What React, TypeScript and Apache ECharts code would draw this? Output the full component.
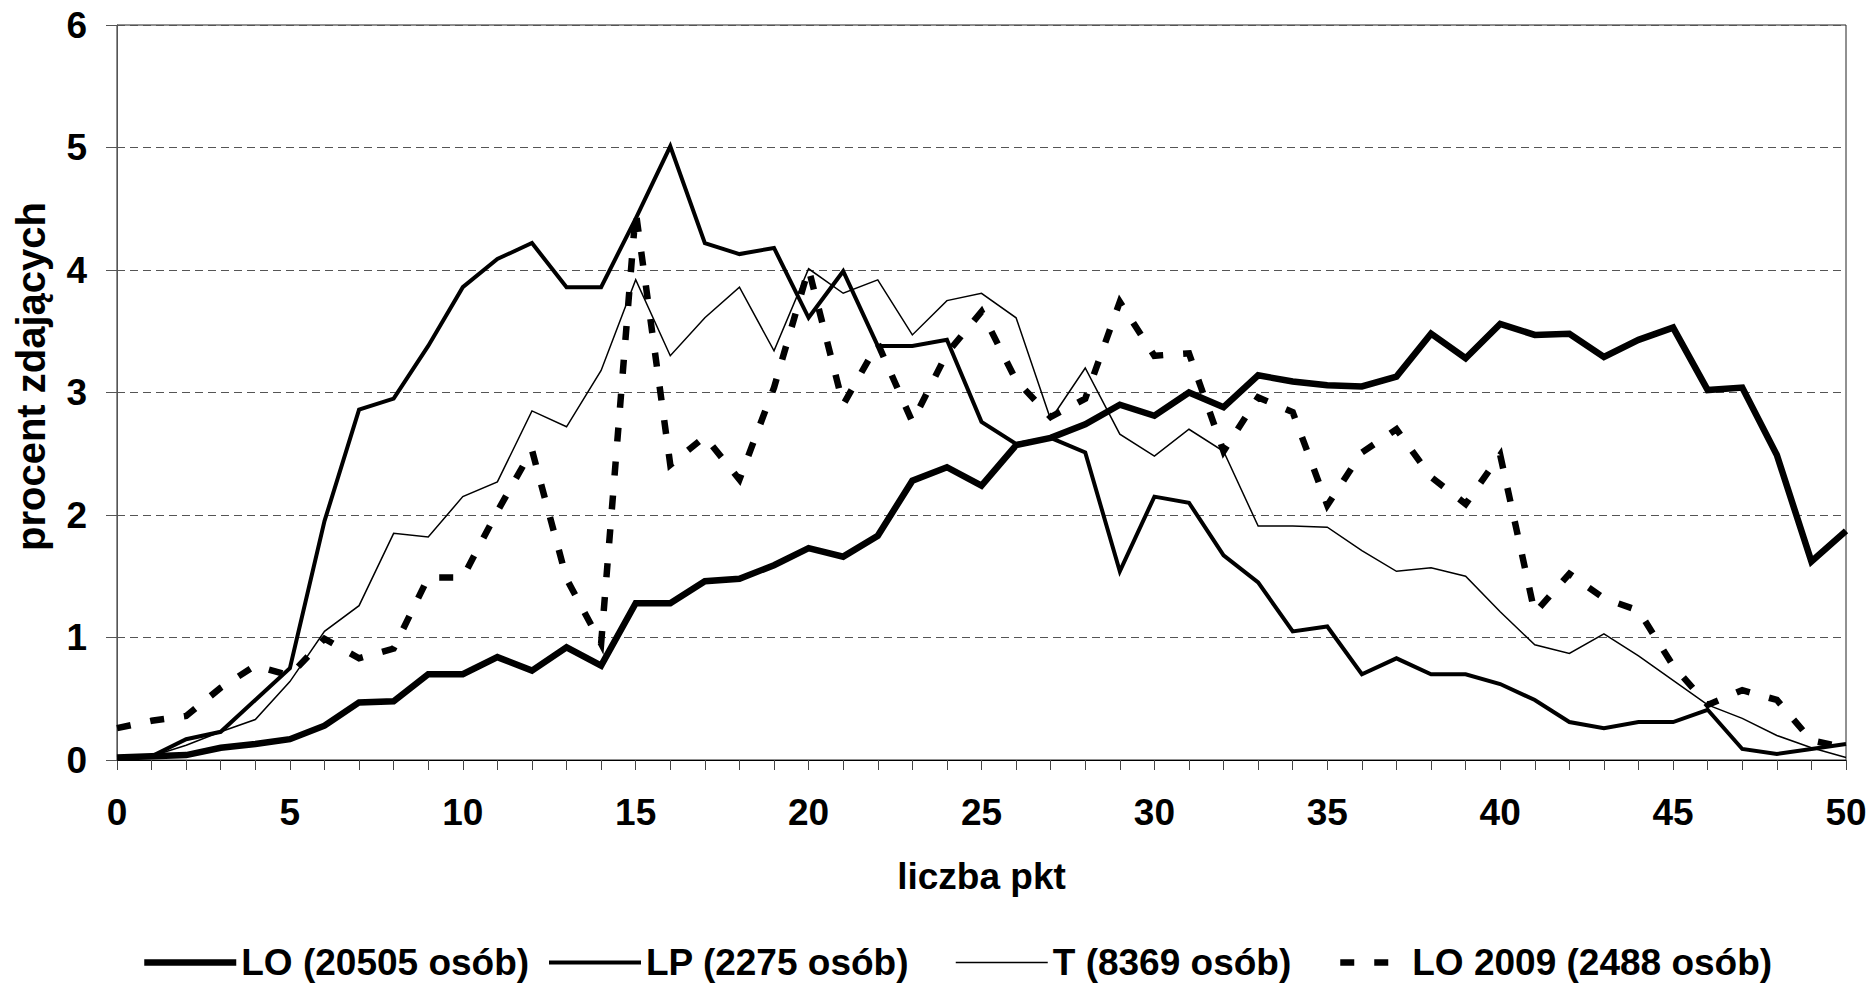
import React, { useEffect, useRef } from "react";
import * as echarts from "echarts";

const seriesNames = ["LO (20505 osób)", "LP (2275 osób)", "T (8369 osób)", "LO 2009 (2488 osób)"];

const loValues = [
  0.02, 0.03, 0.04, 0.10, 0.13, 0.17, 0.28, 0.47, 0.48, 0.70,
  0.70, 0.84, 0.73, 0.92, 0.77, 1.28, 1.28, 1.46, 1.48, 1.59,
  1.73, 1.66, 1.83, 2.28, 2.39, 2.24, 2.57, 2.63, 2.74, 2.90,
  2.81, 3.00, 2.88, 3.14, 3.09, 3.06, 3.05, 3.13, 3.48, 3.28,
  3.56, 3.47, 3.48, 3.29, 3.43, 3.53, 3.02, 3.04, 2.49, 1.62,
  1.87,
];

const lpValues = [
  0.02, 0.03, 0.17, 0.23, 0.49, 0.75, 1.95, 2.86, 2.95, 3.38,
  3.86, 4.09, 4.22, 3.86, 3.86, 4.42, 5.01, 4.22, 4.13, 4.18,
  3.61, 3.99, 3.38, 3.38, 3.43, 2.76, 2.58, 2.63, 2.51, 1.54,
  2.15, 2.10, 1.67, 1.45, 1.05, 1.09, 0.70, 0.83, 0.70, 0.70,
  0.62, 0.49, 0.31, 0.26, 0.31, 0.31, 0.41, 0.09, 0.05, 0.09,
  0.13,
];

const tValues = [
  0.02, 0.03, 0.12, 0.23, 0.33, 0.64, 1.05, 1.26, 1.85, 1.82,
  2.15, 2.27, 2.85, 2.72, 3.18, 3.92, 3.30, 3.61, 3.86, 3.34,
  4.01, 3.81, 3.92, 3.47, 3.75, 3.81, 3.61, 2.78, 3.20, 2.66,
  2.48, 2.70, 2.52, 1.91, 1.91, 1.90, 1.71, 1.54, 1.57, 1.50,
  1.21, 0.94, 0.87, 1.03, 0.85, 0.65, 0.45, 0.34, 0.20, 0.10,
  0.02,
];

const lo2009Values = [
  0.26, 0.32, 0.36, 0.59, 0.77, 0.69, 0.99, 0.83, 0.91, 1.49,
  1.49, 2.03, 2.53, 1.48, 0.95, 4.48, 2.41, 2.64, 2.29, 3.04,
  4.01, 2.90, 3.40, 2.76, 3.32, 3.66, 3.10, 2.80, 2.95, 3.74,
  3.30, 3.32, 2.52, 2.96, 2.84, 2.08, 2.51, 2.70, 2.31, 2.09,
  2.49, 1.20, 1.52, 1.32, 1.22, 0.77, 0.45, 0.57, 0.49, 0.16,
  0.10,
];

const FONT = "'Liberation Sans', Arial, Helvetica, sans-serif";

const toPoints = (vals: number[]) => vals.map((v, i) => [i, v]);

export default function App() {
  const ref = useRef<HTMLDivElement>(null);

  useEffect(() => {
    if (!ref.current) return;
    const chart = echarts.init(ref.current, null, { renderer: "svg" });
    const lineSeries = (name: string, vals: number[], width: number, type: any) => ({
      name,
      type: "line",
      data: toPoints(vals),
      symbol: "none",
      showSymbol: false,
      lineStyle: { color: "#000", width, type, cap: "butt", join: "miter" },
      itemStyle: { color: "#000" },
      z: 3,
    });
    const legendTextStyle = { fontFamily: FONT, fontSize: 37, fontWeight: "bold", color: "#000" };
    const legendAt = (name: string, left: number, itemWidth: number) => ({
      left,
      top: 944,
      itemWidth,
      itemHeight: 14,
      padding: 0,
      textStyle: legendTextStyle,
      lineStyle: { width: "inherit", type: "inherit", color: "#000", cap: "butt" },
      itemStyle: { opacity: 0, borderWidth: 0 },
      data: [name],
    });
    chart.setOption({
      animation: false,
      textStyle: { fontFamily: FONT },
      grid: {
        left: 117,
        right: 26,
        top: 25,
        bottom: 229,
        show: true,
        borderColor: "#222",
        borderWidth: 1,
        backgroundColor: "transparent",
      },
      legend: [
        legendAt(seriesNames[0], 141, 92),
        legendAt(seriesNames[1], 547, 92),
        legendAt(seriesNames[2], 955, 92),
        legendAt(seriesNames[3], 1337, 67),
      ],
      xAxis: {
        type: "value",
        min: 0,
        max: 50,
        interval: 5,
        name: "liczba pkt",
        nameLocation: "middle",
        nameGap: 98,
        nameTextStyle: { fontFamily: FONT, fontSize: 37, fontWeight: "bold", color: "#000" },
        axisLine: { show: true, onZero: false, lineStyle: { color: "#000", width: 1 } },
        axisTick: { show: true, inside: false, length: 10, lineStyle: { color: "#444" } },
        minorTick: { show: true, splitNumber: 5, length: 10, lineStyle: { color: "#444" } },
        axisLabel: { margin: 34, fontFamily: FONT, fontSize: 37, fontWeight: "bold", color: "#000" },
        splitLine: { show: false },
        minorSplitLine: { show: false },
      },
      yAxis: {
        type: "value",
        min: 0,
        max: 6,
        interval: 1,
        name: "procent zdających",
        nameLocation: "middle",
        nameGap: 66,
        nameTextStyle: {
          fontFamily: FONT,
          fontSize: 40,
          fontWeight: "bold",
          color: "#000",
          padding: [0, 0, 0, 32],
        },
        axisLine: { show: true, lineStyle: { color: "#555", width: 1 } },
        axisTick: { show: true, inside: false, length: 11, lineStyle: { color: "#555" } },
        axisLabel: { margin: 30, fontFamily: FONT, fontSize: 37, fontWeight: "bold", color: "#000" },
        splitLine: { show: true, lineStyle: { color: "#555", width: 1, type: [8, 5] } },
      },
      series: [
        lineSeries(seriesNames[0], loValues, 6.5, "solid"),
        lineSeries(seriesNames[1], lpValues, 4, "solid"),
        lineSeries(seriesNames[2], tValues, 1.5, "solid"),
        lineSeries(seriesNames[3], lo2009Values, 6.5, [14, 20]),
      ],
    });
    return () => chart.dispose();
  }, []);

  return (
    <div
      ref={ref}
      style={{ position: "fixed", left: 0, top: 0, width: 1872, height: 989, background: "#fff" }}
    />
  );
}
